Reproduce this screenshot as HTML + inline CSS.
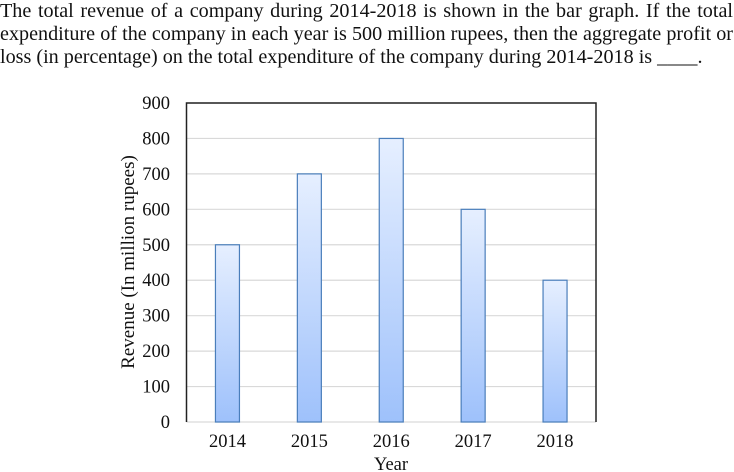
<!DOCTYPE html>
<html><head><meta charset="utf-8"><style>
html,body{margin:0;padding:0;background:#fff;}
svg{display:block;}
text{font-family:"Liberation Serif",serif;fill:#111;}
</style></head><body>
<svg id="chart" width="734" height="472" viewBox="0 0 734 472">
<defs><linearGradient id="bg" x1="0" y1="0" x2="0" y2="1"><stop offset="0" stop-color="#e6efff"/><stop offset="1" stop-color="#9ec1fb"/></linearGradient></defs>
<g font-size="20">
<text id="q1" x="0" y="17">The total revenue of a company during 2014-2018 is shown in the bar graph. If the total</text>
<text id="q2" x="0" y="40">expenditure of the company in each year is 500 million rupees, then the aggregate profit or</text>
<text id="q3" x="0" y="63">loss (in percentage) on the total expenditure of the company during 2014-2018 is ____.</text>
</g>
<g id="grid"></g>
<g id="bars"></g>
<g id="yticks" font-size="18.5" text-anchor="end"></g>
<g id="xticks" font-size="18.5" text-anchor="middle"></g>
<path d="M186.5 422 V103 H596 V422" fill="none" stroke="#222" stroke-width="1.5"/>
<text x="391" y="470" font-size="18.5" text-anchor="middle">Year</text>
<text transform="translate(134,262) rotate(-90)" font-size="19" text-anchor="middle">Revenue (In million rupees)</text>
</svg>
<script>
const categories=["2014","2015","2016","2017","2018"];
const revenue=[500,700,800,600,400];
const yTicks=[0,100,200,300,400,500,600,700,800,900];
const ns="http://www.w3.org/2000/svg";
(function(){
 const q3=document.getElementById('q3');
 const r=703/q3.getComputedTextLength();
 ['q1','q2','q3'].forEach((id,k)=>{
  const t=document.getElementById(id);
  t.setAttribute('transform','scale('+r+',1)');
  if(k<2){
   const n=t.getComputedTextLength();
   const spaces=(t.textContent.match(/ /g)||[]).length;
   const ws=Math.max(-2,(733/r-n)/spaces);
   t.setAttribute('word-spacing',ws);
  }
 });
})();
const x0=186.5,x1=596,yTop=103,yBot=422,yMax=900;
const y=v=>yBot-(v/yMax)*(yBot-yTop);
const band=(x1-x0)/categories.length;
const xc=i=>x0+band*(i+0.5);
const grid=document.getElementById('grid'),bars=document.getElementById('bars'),yt=document.getElementById('yticks'),xt=document.getElementById('xticks');
yTicks.forEach(t=>{
 const l=document.createElementNS(ns,'line');
 
 
 l.setAttribute('x1',x0);l.setAttribute('x2',x1);l.setAttribute('y1',y(t));l.setAttribute('y2',y(t));
 l.setAttribute('stroke','#d9d9d9');l.setAttribute('stroke-width','1.2');grid.appendChild(l);
 const tx=document.createElementNS(ns,'text');
 
 
 tx.setAttribute('x',170);tx.setAttribute('y',y(t)+6);tx.textContent=t;yt.appendChild(tx);
});
categories.forEach((c,i)=>{
 const r=document.createElementNS(ns,'rect');
 
 
 const w=24;
 r.setAttribute('x',xc(i)-w/2);r.setAttribute('width',w);
 r.setAttribute('y',y(revenue[i]));r.setAttribute('height',yBot-y(revenue[i]));
 r.setAttribute('fill','url(#bg)');r.setAttribute('stroke','#4a7ebb');r.setAttribute('stroke-width','1.2');
 bars.appendChild(r);
 const tx=document.createElementNS(ns,'text');
 
 
 tx.setAttribute('x',xc(i));tx.setAttribute('y',447);tx.textContent=c;xt.appendChild(tx);
});
</script>
</body></html>
